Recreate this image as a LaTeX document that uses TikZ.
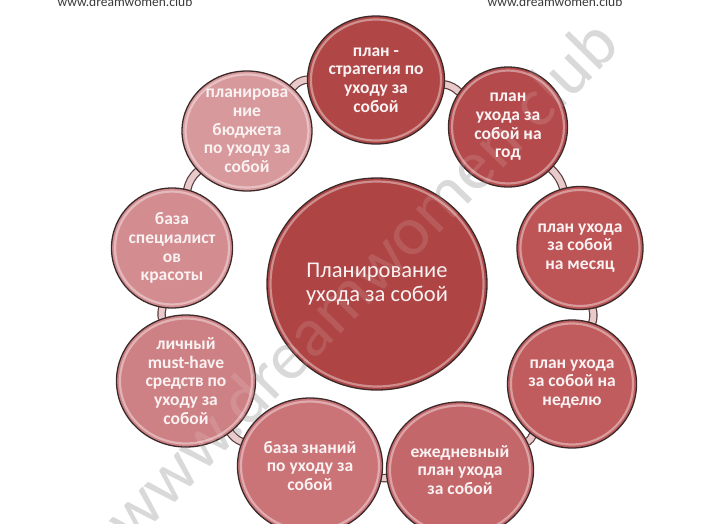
\documentclass[tikz,border=0pt]{standalone}
\usepackage{fontspec}
\setmainfont{Carlito}
\usetikzlibrary{shapes.geometric}
\pgfdeclarelayer{bg}
\pgfsetlayers{bg,main}
\definecolor{cc0}{HTML}{AE4444}
\definecolor{cc1}{HTML}{B04646}
\definecolor{cc2}{HTML}{B44A4C}
\definecolor{cc3}{HTML}{BD5556}
\definecolor{cc4}{HTML}{C05C5E}
\definecolor{cc5}{HTML}{C4676A}
\definecolor{cc6}{HTML}{CA7478}
\definecolor{cc7}{HTML}{CE8185}
\definecolor{cc8}{HTML}{D38C90}
\definecolor{cc9}{HTML}{D8999C}
\definecolor{txt}{HTML}{FAF2F2}
\definecolor{bord}{HTML}{3C2A2A}
\definecolor{ringd}{HTML}{5A3C3C}
\definecolor{ringl}{HTML}{E8CACA}
\definecolor{hdr}{HTML}{3A3A3A}
\definecolor{wm}{HTML}{D4D4D4}
\tikzset{
  bubble/.style={ellipse, draw=bord, line width=1.3pt, text=txt,
    font=\bfseries\fontsize{17.5}{18.7}\selectfont, align=center,
    inner sep=-25pt, outer sep=0pt},
  hub/.style={bubble, font=\fontsize{22.5}{24.5}\selectfont},
  rim/.style={draw=white, opacity=0.4, line width=2.2pt},
  ring/.style={draw=ringd, line width=1.2pt, double=ringl, double distance=6pt},
  hdrtext/.style={text=hdr, font=\fontsize{13.5}{15}\selectfont, inner sep=0pt, anchor=base},
  wmark/.style={font=\fontsize{70}{78}\selectfont, rotate=45.5, inner sep=0pt}
}
\newcommand\bub[8]{% style name x y w h color text
  \node[#1, fill=#7, minimum width=#5pt, minimum height=#6pt] (#2) at (#3,#4) {#8};
  \draw[rim] (#2.center) ellipse [x radius={#5/2-3.5}, y radius={#6/2-3.5}];
}
\begin{document}
\begin{tikzpicture}[x=1pt,y=-1pt]
\useasboundingbox (0,0) rectangle (722,523);
\begin{pgfonlayer}{bg}
\fill[white] (0,0) rectangle (722,523);
\node[wmark, text=wm] (wm) at (360,280) {www.dreamwomen.club};
\end{pgfonlayer}
\node[hdrtext] (h1) at (125,6) {www.dreamwomen.club};
\node[hdrtext] (h2) at (555,6) {www.dreamwomen.club};

\bub{hub}{c0}{377}{284}{220}{212}{cc0}{Планирование\\ухода за собой}
\bub{bubble}{c1}{376}{80}{137}{128}{cc1}{план -\\стратегия по\\уходу за\\собой}
\bub{bubble}{c2}{508}{127}{119}{120}{cc2}{план\\ухода за\\собой на\\год}
\bub{bubble}{c3}{580}{248}{126}{123}{cc3}{план ухода\\за собой\\на месяц}
\bub{bubble}{c4}{572}{384}{129}{128}{cc4}{план ухода\\за собой на\\неделю}
\bub{bubble}{c5}{460}{470}{147}{136}{cc5}{ежедневный\\план ухода\\за собой}
\bub{bubble}{c6}{310}{466}{145}{136}{cc6}{база знаний\\по уходу за\\собой}
\bub{bubble}{c7}{186}{381}{139}{132}{cc7}{личный\\must-have\\средств по\\уходу за\\собой}
\bub{bubble}{c8}{172}{248}{121}{120}{cc8}{база\\специалист\\ов\\красоты}
\bub{bubble}{c9}{247}{131}{130}{120}{cc9}{планирова\\ние\\бюджета\\по уходу за\\собой}

\begin{pgfonlayer}{bg}
\draw[ring] (c1) to[bend left=16] (c2);
\draw[ring] (c2) to[bend left=15] (c3);
\draw[ring] (c3) to[bend left=15] (c4);
\draw[ring] (c4) to[bend left=15] (c5);
\draw[ring] (c5) to[bend left=8] (c6);
\draw[ring] (c6) to[bend left=15] (c7);
\draw[ring] (c7) to[bend left=15] (c8);
\draw[ring] (c8) to[bend left=18] (c9);
\draw[ring] (c9) to[bend left=22] (c1);
\end{pgfonlayer}

\node[wmark, text=white, opacity=0.12] (wm2) at (360,280) {www.dreamwomen.club};
\end{tikzpicture}
\end{document}
